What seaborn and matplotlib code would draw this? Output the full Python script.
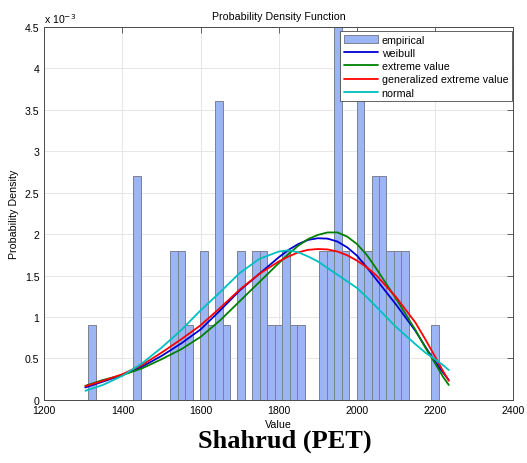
# Shahrud (PET) — probability density: empirical histogram + fitted curves
import matplotlib
matplotlib.use('Agg')
import matplotlib.pyplot as plt
import matplotlib as mpl
from matplotlib.ticker import FuncFormatter
from matplotlib.patches import Patch
from matplotlib.lines import Line2D
import numpy as np
import pandas as pd
import seaborn as sns

sns.set_style('white')
mpl.rcParams['font.family'] = ['Liberation Sans', 'DejaVu Sans']
mpl.rcParams['font.size'] = 7.7
for k in ['text.color', 'axes.labelcolor', 'xtick.color', 'ytick.color']:
    mpl.rcParams[k] = 'black'

# empirical histogram (bin centers, density in units of 1e-3)
bin_centers = [1323, 1437, 1532, 1551, 1570, 1609, 1628, 1647, 1666, 1704,
               1742, 1761, 1780, 1799, 1818, 1837, 1856, 1913, 1932, 1951,
               1970, 2008, 2027, 2046, 2066, 2085, 2104, 2123, 2199]
density = [0.9, 2.7, 1.8, 1.8, 0.9, 1.8, 0.9, 3.6, 0.9, 1.8,
           1.8, 1.8, 0.9, 0.9, 1.8, 0.9, 0.9, 1.8, 1.8, 4.5,
           1.8, 3.6, 1.8, 2.7, 2.7, 1.8, 1.8, 1.8, 0.9]
bin_width = 19.05

# fitted pdf curves (units of 1e-3)
x_fit = [1305, 1350, 1400, 1450, 1500, 1550, 1600, 1650, 1700, 1750,
         1800, 1825, 1850, 1875, 1900, 1925, 1950, 1975, 2000, 2025,
         2050, 2100, 2150, 2175, 2200, 2220, 2235]
weibull = [0.15, 0.22, 0.30, 0.40, 0.53, 0.68, 0.85, 1.08, 1.32, 1.52,
           1.72, 1.81, 1.88, 1.93, 1.95, 1.945, 1.91, 1.84, 1.74, 1.60,
           1.45, 1.15, 0.83, 0.64, 0.46, 0.33, 0.24]
extreme_value = [0.17, 0.24, 0.30, 0.38, 0.49, 0.61, 0.76, 0.96, 1.19, 1.42,
                 1.65, 1.76, 1.86, 1.94, 1.99, 2.02, 2.02, 1.97, 1.88, 1.75,
                 1.58, 1.22, 0.84, 0.63, 0.44, 0.28, 0.18]
gev = [0.165, 0.23, 0.31, 0.42, 0.57, 0.73, 0.90, 1.11, 1.33, 1.52,
       1.67, 1.73, 1.78, 1.81, 1.82, 1.815, 1.79, 1.745, 1.68, 1.60,
       1.50, 1.24, 0.93, 0.73, 0.52, 0.35, 0.23]
normal = [0.11, 0.18, 0.29, 0.44, 0.63, 0.84, 1.08, 1.30, 1.53, 1.70,
          1.79, 1.805, 1.78, 1.73, 1.67, 1.59, 1.51, 1.43, 1.35, 1.24,
          1.12, 0.88, 0.67, 0.57, 0.49, 0.42, 0.36]

curves = [('weibull', weibull, '#0000d0'),
          ('extreme value', extreme_value, '#008000'),
          ('generalized extreme value', gev, '#ff0000'),
          ('normal', normal, '#00bfbf')]

BAR_FACE = '#9cb5f5'
BAR_EDGE = '#7d8090'
FRAME = '#4a4a4a'

fig = plt.figure(figsize=(5.27, 4.64), dpi=100)
ax = fig.add_axes([0.084, 0.136, 0.890, 0.804])

sns.histplot(x=bin_centers, weights=density, binwidth=bin_width,
             binrange=(1313, 2209), ax=ax, color=BAR_FACE, alpha=1,
             edgecolor=BAR_EDGE, linewidth=0.7, zorder=2)

df = pd.DataFrame({'x': x_fit})
for name, vals, col in curves:
    df[name] = vals
    sns.lineplot(data=df, x='x', y=name, ax=ax, color=col, linewidth=1.3,
                 zorder=3)

ax.set_xlim(1200, 2400)
ax.set_ylim(0, 4.5)
ax.set_xticks(np.arange(1200, 2401, 200))
ax.set_yticks(np.arange(0, 4.51, 0.5))
ax.yaxis.set_major_formatter(FuncFormatter(lambda v, p: f'{v:g}'))
ax.grid(True, color='#e2e2e2', linewidth=0.6)
ax.set_axisbelow(True)
ax.tick_params(direction='in', length=4, width=0.6, top=True, right=True,
               color=FRAME, labelsize=7.6, pad=3.5)
for s in ax.spines.values():
    s.set_color(FRAME)
    s.set_linewidth(0.7)

ax.set_xlabel('Value', fontsize=7.7, labelpad=3)
ax.set_ylabel('Probability Density', fontsize=7.7, labelpad=4)
ax.set_title('Probability Density Function', fontsize=7.7, pad=6)
ax.text(0.0, 1.004, r'x 10$^{-3}$', transform=ax.transAxes, fontsize=7.6,
        ha='left', va='bottom')

handles = [Patch(facecolor=BAR_FACE, edgecolor=BAR_EDGE, linewidth=0.7)]
labels = ['empirical']
for name, vals, col in curves:
    handles.append(Line2D([], [], color=col, linewidth=1.3))
    labels.append(name)
leg = ax.legend(handles, labels, loc='upper right',
                bbox_to_anchor=(0.9975, 0.9885), borderaxespad=0,
                fontsize=7.7, handlelength=3.2, handleheight=0.75,
                handletextpad=0.35, labelspacing=0.3, borderpad=0.35,
                fancybox=False, framealpha=1, edgecolor=FRAME)
leg.get_frame().set_linewidth(0.6)

fig.text(0.5395, 0.0496, 'Shahrud (PET)', ha='center', va='center',
         fontsize=19, fontweight='bold', family=['Liberation Serif'],
         color='black')

fig.savefig('out.png', dpi=100)
